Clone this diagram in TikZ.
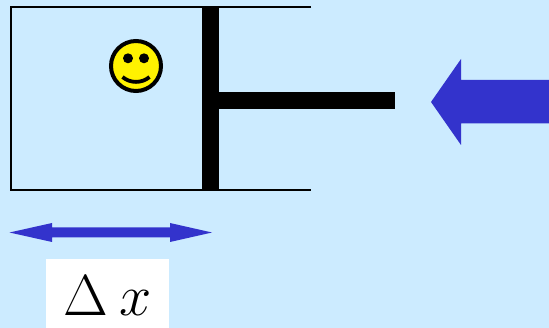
\documentclass[tikz,border=0pt]{standalone}
\definecolor{bgblue}{HTML}{CCEBFF}
\definecolor{arrowblue}{HTML}{3333CC}
\tikzset{
  wall/.style={draw=black,line width=2pt},
  solidpart/.style={fill=black,draw=none},
  bluepart/.style={fill=arrowblue,draw=none},
}
\begin{document}
\begin{tikzpicture}[x=1pt,y=-1pt]
\useasboundingbox (0,0) rectangle (549,328);
\fill[bgblue] (0,0) rectangle (549,328);
% cylinder
\draw[wall] (311,7.5) -- (10.5,7.5) -- (10.5,190) -- (311,190);
% piston and rod
\fill[solidpart] (202,7) rectangle (219,191);
\fill[solidpart] (219,92) rectangle (394.5,109.5);
% smiley
\draw[black,line width=4pt,fill=yellow] (136,66) circle (25);
\fill[black] (128,58.3) circle (5);
\fill[black] (144,58.3) circle (5);
\draw[black,line width=3.8pt] (122.5,77) .. controls (130,83.5) and (142,83.5) .. (149.5,77);
% push arrow
\fill[bluepart] (431,102) -- (461,59) -- (461,80) -- (549,80) -- (549,123.5) -- (461,123.5) -- (461,145) -- cycle;
% double arrow
\fill[bluepart] (9.5,232.5) -- (52,223) -- (52,227.5) -- (170,227.5) -- (170,223) -- (212,232.5) -- (170,242) -- (170,237.5) -- (52,237.5) -- (52,242) -- cycle;
% label
\fill[white] (46,259) rectangle (169,328);
\node[anchor=base west,inner sep=0pt] (dx) at (63,316) {\scalebox{3.35}{\LARGE$\Delta\mkern3.5mu x$}};
\end{tikzpicture}
\end{document}
